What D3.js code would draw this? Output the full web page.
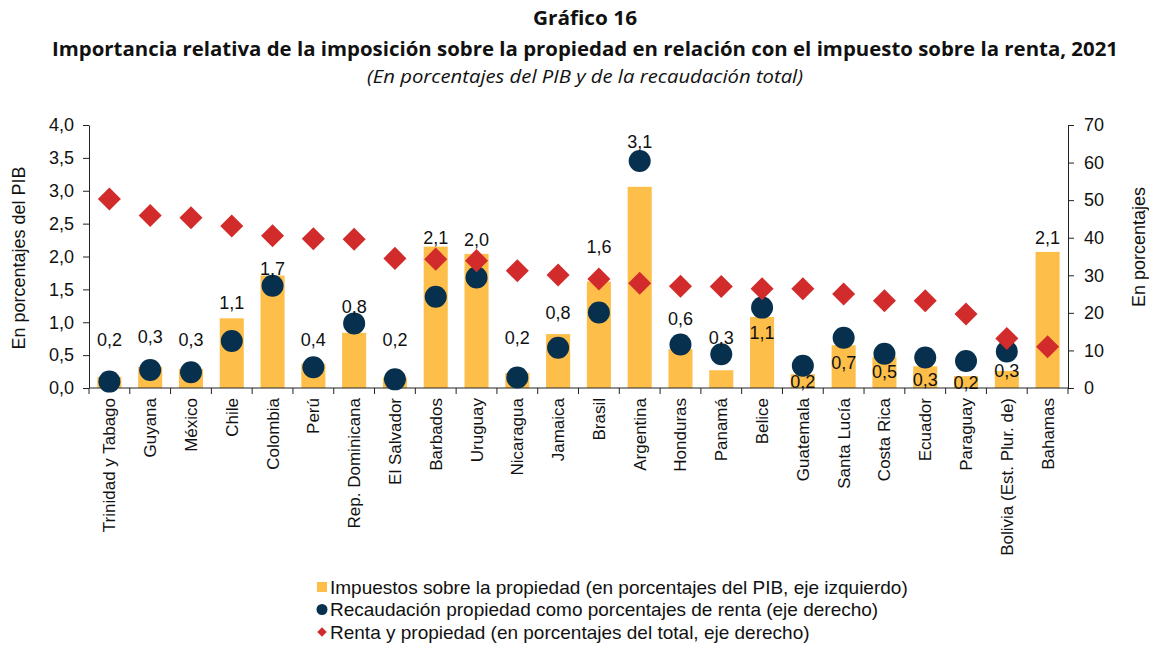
<!DOCTYPE html>
<html>
<head>
<meta charset="utf-8">
<script src="https://cdn.jsdelivr.net/npm/d3@7"></script>
<style>
  body { margin: 0; background: #fff; }
</style>
</head>
<body>
<div id="chart"></div>
<script>
// data
var countries = ["Trinidad y Tabago", "Guyana", "México", "Chile", "Colombia", "Perú",
  "Rep. Dominicana", "El Salvador", "Barbados", "Uruguay", "Nicaragua", "Jamaica", "Brasil",
  "Argentina", "Honduras", "Panamá", "Belice", "Guatemala", "Santa Lucía", "Costa Rica",
  "Ecuador", "Paraguay", "Bolivia (Est. Plur. de)", "Bahamas"];
var propiedadPIB = [0.17, 0.32, 0.29, 1.06, 1.71, 0.37, 0.84, 0.16, 2.15, 2.04, 0.23, 0.82, 1.62,
  3.06, 0.59, 0.27, 1.08, 0.21, 0.65, 0.47, 0.33, 0.18, 0.26, 2.07];
var propiedadRenta = [1.7, 4.8, 4.2, 12.5, 27.2, 5.5, 17.2, 2.3, 24.3, 29.4, 2.8, 10.7, 20.1,
  60.4, 11.6, 9.0, 21.4, 5.9, 13.4, 9.1, 8.1, 7.2, 9.7, null];
var rentaPropiedadTotal = [50.3, 45.9, 45.3, 43.1, 40.5, 39.7, 39.6, 34.5, 34.3, 33.9, 31.2, 30.1, 29.0,
  27.9, 27.1, 27.0, 26.4, 26.4, 25.0, 23.2, 23.2, 19.7, 13.2, 11.0];
var leftTicks = [0, 0.5, 1, 1.5, 2, 2.5, 3, 3.5, 4];
var rightTicks = [0, 10, 20, 30, 40, 50, 60, 70];

// where each value label sits (left-axis units), as placed in the original
var labelPos = [0.73, 0.78, 0.73, 1.29, 1.82, 0.73, 1.23, 0.73, 2.28, 2.25, 0.76, 1.14, 2.15,
  3.74, 1.06, 0.76, 0.84, 0.10, 0.38, 0.25, 0.12, 0.08, 0.27, 2.28];

var width = 1149, height = 646;
var margin = {top: 125, right: 81, bottom: 258, left: 89};
var FONT = "'Liberation Sans', Arial, Helvetica, sans-serif";
var TITLE_FONT = "'Open Sans', Lato, sans-serif";

var svg = d3.select("#chart").append("svg")
  .attr("width", width)
  .attr("height", height)
  .style("font-family", FONT);

var fmt = function(v) { return d3.format(".1f")(v).replace(".", ","); };

var x = d3.scaleBand()
  .domain(countries)
  .range([margin.left, width - margin.right])
  .paddingInner(0.41)
  .paddingOuter(0.205);

var yL = d3.scaleLinear().domain([0, 4]).range([height - margin.bottom, margin.top]);
var yR = d3.scaleLinear().domain([0, 70]).range([height - margin.bottom, margin.top]);

var cx = function(i) { return x(countries[i]) + x.bandwidth() / 2; };

// titles
svg.append("text")
  .attr("x", 533).attr("y", 25)
  .attr("textLength", 104).attr("lengthAdjust", "spacingAndGlyphs")
  .style("font-family", TITLE_FONT)
  .style("font-size", "20px").style("font-weight", "bold").style("fill", "#111")
  .text("Gráfico 16");
svg.append("text")
  .attr("x", 52).attr("y", 56)
  .attr("textLength", 1066).attr("lengthAdjust", "spacingAndGlyphs")
  .style("font-family", TITLE_FONT)
  .style("font-size", "19px").style("font-weight", "bold").style("fill", "#111")
  .text("Importancia relativa de la imposición sobre la propiedad en relación con el impuesto sobre la renta, 2021");
svg.append("text")
  .attr("x", 367).attr("y", 83)
  .attr("textLength", 436).attr("lengthAdjust", "spacingAndGlyphs")
  .style("font-family", TITLE_FONT)
  .style("font-size", "18px").style("font-style", "italic").style("fill", "#111")
  .text("(En porcentajes del PIB y de la recaudación total)");

// bars
svg.selectAll(".bar")
  .data(propiedadPIB)
  .enter().append("rect")
  .attr("class", "bar")
  .attr("x", function(d, i) { return x(countries[i]); })
  .attr("y", function(d) { return yL(d); })
  .attr("width", x.bandwidth())
  .attr("height", function(d) { return yL(0) - yL(d); })
  .style("fill", "#FDBF4A");

// axes
var xAxisG = svg.append("g")
  .attr("transform", "translate(0," + yL(0) + ")");
xAxisG.append("line")
  .attr("x1", margin.left).attr("x2", width - margin.right)
  .style("stroke", "#222");
xAxisG.selectAll(".xtick")
  .data(d3.range(countries.length + 1))
  .enter().append("line")
  .attr("x1", function(i) { return margin.left + i * x.step(); })
  .attr("x2", function(i) { return margin.left + i * x.step(); })
  .attr("y1", 0).attr("y2", 6)
  .style("stroke", "#222");
xAxisG.selectAll(".xlab")
  .data(countries)
  .enter().append("text")
  .attr("transform", function(d) { return "translate(" + (x(d) + x.bandwidth() / 2 + 6) + ",10) rotate(-90)"; })
  .attr("text-anchor", "end")
  .style("font-family", FONT)
  .style("font-size", "17px").style("fill", "#111")
  .text(function(d) { return d; });

var axisL = svg.append("g")
  .attr("transform", "translate(" + margin.left + ",0)")
  .call(d3.axisLeft(yL).tickValues(leftTicks).tickFormat(fmt).tickSize(6).tickSizeOuter(0));
var axisR = svg.append("g")
  .attr("transform", "translate(" + (width - margin.right) + ",0)")
  .call(d3.axisRight(yR).tickValues(rightTicks).tickSize(6).tickSizeOuter(0));
[axisL, axisR].forEach(function(g) {
  g.attr("font-family", null).attr("font-size", null);
  g.selectAll("path, line").style("stroke", "#222");
  g.selectAll("text").style("font-size", "18px").style("font-family", FONT).style("fill", "#111");
});
axisL.selectAll("text").attr("x", -15);
axisR.selectAll("text").attr("x", 16);

svg.append("text")
  .attr("transform", "translate(25,258) rotate(-90)")
  .attr("text-anchor", "middle")
  .style("font-size", "18px").style("fill", "#111")
  .text("En porcentajes del PIB");
svg.append("text")
  .attr("transform", "translate(1145,247) rotate(-90)")
  .attr("text-anchor", "middle")
  .style("font-size", "18px").style("fill", "#111")
  .text("En porcentajes");

// dots (right axis)
svg.selectAll(".dot")
  .data(propiedadRenta.map(function(v, i) { return {v: v, i: i}; }).filter(function(d) { return d.v != null; }))
  .enter().append("circle")
  .attr("class", "dot")
  .attr("cx", function(d) { return cx(d.i); })
  .attr("cy", function(d) { return yR(d.v); })
  .attr("r", 11)
  .style("fill", "#06304D");

// diamonds (right axis)
svg.selectAll(".diamond")
  .data(rentaPropiedadTotal)
  .enter().append("path")
  .attr("class", "diamond")
  .attr("d", d3.symbol().type(d3.symbolSquare).size(265))
  .attr("transform", function(d, i) { return "translate(" + cx(i) + "," + yR(d) + ") rotate(45)"; })
  .style("fill", "#D22B2B");

// value labels
svg.selectAll(".vlab")
  .data(propiedadPIB)
  .enter().append("text")
  .attr("class", "vlab")
  .attr("x", function(d, i) { return cx(i); })
  .attr("y", function(d, i) { return yL(labelPos[i]); })
  .attr("dy", "0.35em")
  .attr("text-anchor", "middle")
  .style("font-size", "18px").style("fill", "#111")
  .text(function(d) { return fmt(d); });

// legend
var legendItems = [
  {label: "Impuestos sobre la propiedad (en porcentajes del PIB, eje izquierdo)", type: "bar"},
  {label: "Recaudación propiedad como porcentajes de renta (eje derecho)", type: "dot"},
  {label: "Renta y propiedad (en porcentajes del total, eje derecho)", type: "diamond"}
];
var legend = svg.selectAll(".legend")
  .data(legendItems)
  .enter().append("g")
  .attr("class", "legend")
  .attr("transform", function(d, i) { return "translate(322," + (587 + i * 22.5) + ")"; });
legend.each(function(d) {
  var g = d3.select(this);
  if (d.type == "bar") {
    g.append("rect").attr("x", -5).attr("y", -5).attr("width", 10).attr("height", 10).style("fill", "#FDBF4A");
  } else if (d.type == "dot") {
    g.append("circle").attr("r", 5.5).style("fill", "#06304D");
  } else {
    g.append("path").attr("d", d3.symbol().type(d3.symbolSquare).size(45))
      .attr("transform", "rotate(45)").style("fill", "#D22B2B");
  }
});
legend.append("text")
  .attr("x", 8).attr("dy", "0.35em")
  .style("font-size", "19px").style("fill", "#111")
  .text(function(d) { return d.label; });
</script>
</body>
</html>
